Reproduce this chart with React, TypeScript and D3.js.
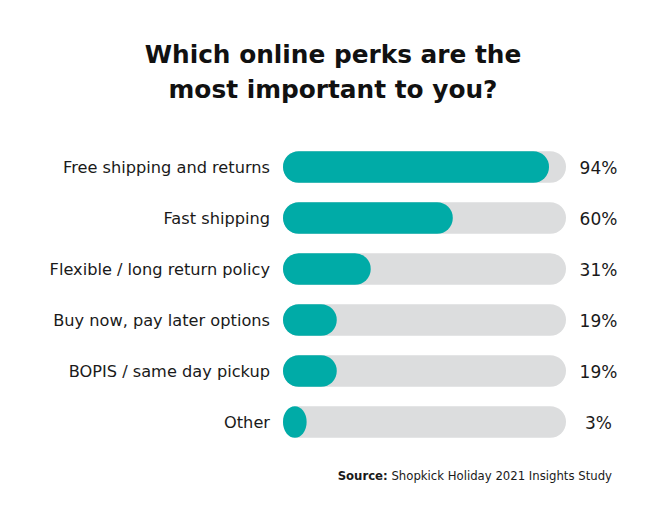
import React from "react";
import * as d3 from "d3";

const categories = [
  "Free shipping and returns",
  "Fast shipping",
  "Flexible / long return policy",
  "Buy now, pay later options",
  "BOPIS / same day pickup",
  "Other",
];
const values = [94, 60, 31, 19, 19, 3];
const titleLines = ["Which online perks are the", "most important to you?"];
const sourceBold = "Source:";
const sourceText = " Shopkick Holiday 2021 Insights Study";

const W = 670;
const H = 509;
const TEAL = "#00ABA7";
const TRACK = "#DCDDDE";
const FONT = "'DejaVu Sans', sans-serif";

export default function App() {
  const x = d3.scaleLinear().domain([0, 100]).range([283, 566]);
  const y = d3
    .scalePoint<string>()
    .domain(categories)
    .range([167, 422]);
  const barH = 31.5;
  const r = barH / 2;

  return (
    <svg
      width={W}
      height={H}
      style={{ position: "absolute", left: 0, top: 0, background: "#fff" }}
      fontFamily={FONT}
    >
      <rect width={W} height={H} fill="#fff" />
      {titleLines.map((t, i) => (
        <text
          key={i}
          x={333}
          y={63 + i * 34.5}
          textAnchor="middle"
          fontSize={24.8}
          fontWeight="bold"
          fill="#111"
        >
          {t}
        </text>
      ))}
      {categories.map((c, i) => {
        const cy = y(c)!;
        const v = values[i];
        const fillW = Math.max(x(v) - x(0), barH * 0.75);
        return (
          <g key={c}>
            <text
              x={270}
              y={cy}
              dy="0.35em"
              textAnchor="end"
              fontSize={16.2}
              fill="#1a1a1a"
            >
              {c}
            </text>
            <rect
              x={x(0)}
              y={cy - r}
              width={x(100) - x(0)}
              height={barH}
              rx={r}
              ry={r}
              fill={TRACK}
            />
            <rect
              x={x(0)}
              y={cy - r}
              width={fillW}
              height={barH}
              rx={Math.min(r, fillW / 2)}
              ry={r}
              fill={TEAL}
            />
            <text
              x={598.5}
              y={cy + 1}
              dy="0.35em"
              textAnchor="middle"
              fontSize={17}
              fill="#1a1a1a"
            >
              {v}%
            </text>
          </g>
        );
      })}
      <text x={612} y={480} textAnchor="end" fontSize={11.7} fill="#1a1a1a">
        <tspan fontWeight="bold">{sourceBold}</tspan>
        <tspan>{sourceText}</tspan>
      </text>
    </svg>
  );
}
